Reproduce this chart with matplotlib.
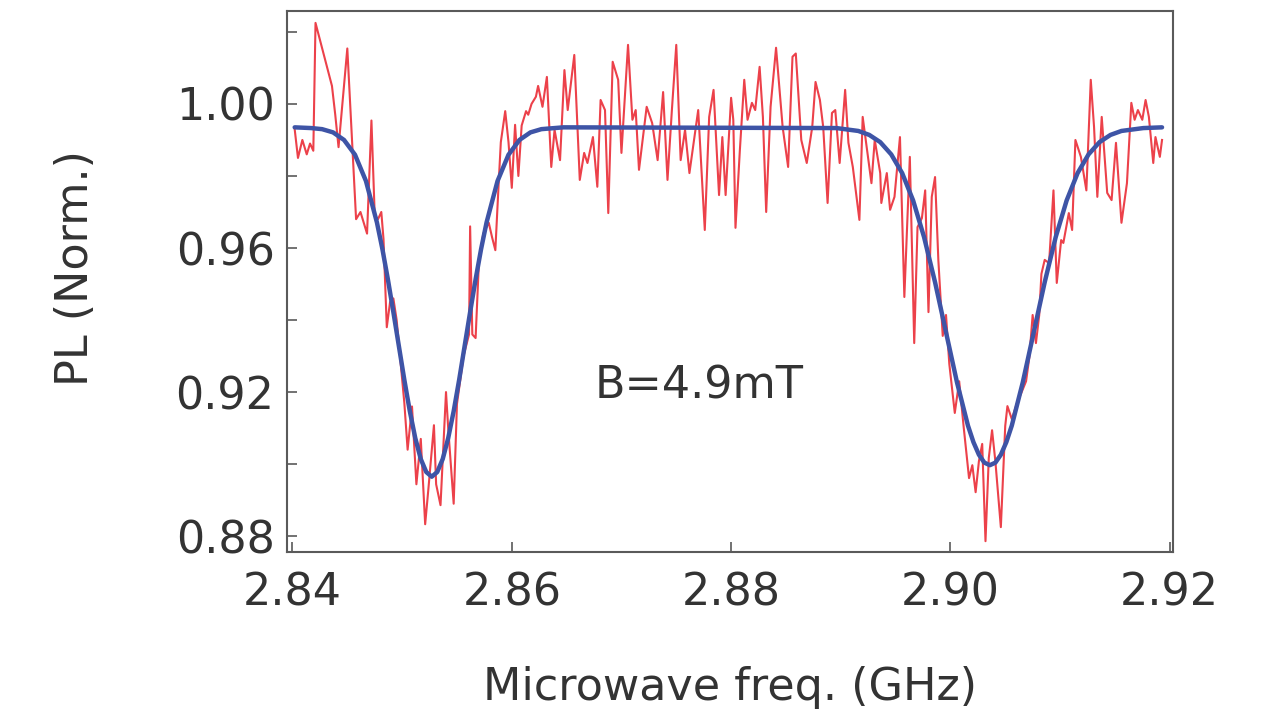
import numpy as np
import matplotlib
matplotlib.use('Agg')
import matplotlib.pyplot as plt
from matplotlib.ticker import MultipleLocator

# ODMR spectrum, measured PL and two-dip fit
freq = [2.8402, 2.8405, 2.8409, 2.8413, 2.8416, 2.8419, 2.8421, 2.8436, 2.8439, 2.8442,
        2.8450, 2.8458, 2.8462, 2.8465, 2.8468, 2.8472, 2.8475, 2.8478, 2.8481, 2.8483,
        2.8486, 2.8489, 2.8492, 2.8495, 2.8502, 2.8505, 2.8509, 2.8513, 2.8517, 2.8521,
        2.8524, 2.8529, 2.8531, 2.8535, 2.8540, 2.8542, 2.8547, 2.8550, 2.8556, 2.8561,
        2.8562, 2.8564, 2.8567, 2.8570, 2.8574, 2.8579, 2.8582, 2.8585, 2.8588, 2.8590,
        2.8594, 2.8597, 2.8600, 2.8603, 2.8606, 2.8609, 2.8613, 2.8615, 2.8618, 2.8622,
        2.8624, 2.8628, 2.8632, 2.8636, 2.8639, 2.8644, 2.8648, 2.8651, 2.8657, 2.8662,
        2.8666, 2.8669, 2.8674, 2.8678, 2.8681, 2.8685, 2.8688, 2.8692, 2.8697, 2.8700,
        2.8706, 2.8710, 2.8713, 2.8716, 2.8723, 2.8728, 2.8733, 2.8738, 2.8742, 2.8746,
        2.8750, 2.8754, 2.8758, 2.8762, 2.8770, 2.8776, 2.8780, 2.8784, 2.8789, 2.8792,
        2.8795, 2.8800, 2.8802, 2.8804, 2.8808, 2.8812, 2.8815, 2.8819, 2.8822, 2.8826,
        2.8829, 2.8832, 2.8836, 2.8841, 2.8847, 2.8852, 2.8856, 2.8859, 2.8864, 2.8869,
        2.8874, 2.8877, 2.8881, 2.8884, 2.8888, 2.8892, 2.8895, 2.8899, 2.8904, 2.8907,
        2.8911, 2.8917, 2.8920, 2.8924, 2.8928, 2.8931, 2.8936, 2.8937, 2.8942, 2.8945,
        2.8949, 2.8954, 2.8958, 2.8963, 2.8967, 2.8970, 2.8974, 2.8977, 2.8980, 2.8983,
        2.8986, 2.8989, 2.8993, 2.8996, 2.8999, 2.9004, 2.9008, 2.9012, 2.9017, 2.9020,
        2.9023, 2.9026, 2.9029, 2.9032, 2.9035, 2.9038, 2.9041, 2.9046, 2.9050, 2.9052,
        2.9056, 2.9061, 2.9065, 2.9069, 2.9072, 2.9075, 2.9078, 2.9081, 2.9083, 2.9086,
        2.9090, 2.9094, 2.9097, 2.9101, 2.9103, 2.9108, 2.9111, 2.9114, 2.9119, 2.9124,
        2.9128, 2.9131, 2.9134, 2.9138, 2.9143, 2.9147, 2.9151, 2.9156, 2.9161, 2.9165,
        2.9168, 2.9171, 2.9175, 2.9178, 2.9181, 2.9185, 2.9187, 2.9191, 2.9193]

pl = [0.9930, 0.9850, 0.9900, 0.9860, 0.9890, 0.9870, 1.0225, 1.0050, 0.9970, 0.9880,
      1.0154, 0.9680, 0.9700, 0.9670, 0.9640, 0.9954, 0.9690, 0.9680, 0.9700, 0.9625,
      0.9380, 0.9450, 0.9460, 0.9400, 0.9170, 0.9040, 0.9160, 0.8944, 0.9070, 0.8833,
      0.8933, 0.9108, 0.8944, 0.8886, 0.9200, 0.9100, 0.8890, 0.9167, 0.9300, 0.9360,
      0.9660, 0.9360, 0.9350, 0.9560, 0.9640, 0.9670, 0.9630, 0.9594, 0.9778, 0.9894,
      0.9980, 0.9894, 0.9767, 0.9942, 0.9800, 0.9940, 0.9980, 0.9970, 1.0000, 1.0020,
      1.0050, 0.9992, 1.0075, 0.9825, 0.9928, 0.9844, 1.0094, 0.9983, 1.0136, 0.9789,
      0.9864, 0.9836, 0.9908, 0.9770, 1.0011, 0.9983, 0.9697, 1.0117, 1.0067, 0.9864,
      1.0164, 0.9956, 0.9983, 0.9817, 0.9992, 0.9947, 0.9844, 1.0033, 0.9789, 0.9983,
      1.0164, 0.9844, 0.9928, 0.9808, 0.9983, 0.9650, 0.9964, 1.0039, 0.9747, 0.9908,
      0.9747, 1.0017, 0.9956, 0.9656, 0.9872, 1.0067, 0.9956, 1.0003, 0.9983, 1.0103,
      0.9964, 0.9700, 0.9992, 1.0156, 0.9936, 0.9825, 1.0131, 1.0140, 0.9900, 0.9836,
      0.9936, 1.0061, 1.0011, 0.9936, 0.9725, 0.9975, 0.9983, 0.9836, 1.0039, 0.9892,
      0.9825, 0.9678, 0.9964, 0.9872, 0.9780, 0.9900, 0.9808, 0.9725, 0.9808, 0.9706,
      0.9742, 0.9908, 0.9464, 0.9853, 0.9336, 0.9658, 0.9683, 0.9760, 0.9422, 0.9742,
      0.9797, 0.9567, 0.9356, 0.9414, 0.9278, 0.9142, 0.9230, 0.9106, 0.8961, 0.8997,
      0.8922, 0.9008, 0.9056, 0.8786, 0.9017, 0.9094, 0.9008, 0.8825, 0.9106, 0.9161,
      0.9125, 0.9172, 0.9200, 0.9230, 0.9297, 0.9414, 0.9336, 0.9414, 0.9528, 0.9567,
      0.9558, 0.9760, 0.9503, 0.9622, 0.9614, 0.9697, 0.9650, 0.9900, 0.9853, 0.9760,
      1.0067, 0.9936, 0.9742, 0.9964, 0.9753, 0.9733, 0.9892, 0.9670, 0.9780, 1.0003,
      0.9956, 0.9983, 0.9956, 1.0011, 0.9964, 0.9836, 0.9908, 0.9853, 0.9900]

fit_freq = [2.8402, 2.8417, 2.8427, 2.8437, 2.8447, 2.8457, 2.8467, 2.8477, 2.8482, 2.8487,
            2.8492, 2.8497, 2.8502, 2.8507, 2.8512, 2.8517, 2.8522, 2.8527, 2.8532, 2.8537,
            2.8542, 2.8547, 2.8552, 2.8557, 2.8562, 2.8567, 2.8572, 2.8577, 2.8587, 2.8597,
            2.8607, 2.8617, 2.8627, 2.8647, 2.8896, 2.8916, 2.8926, 2.8936, 2.8946, 2.8956,
            2.8966, 2.8976, 2.8986, 2.8996, 2.9006, 2.9016, 2.9021, 2.9026, 2.9031, 2.9036,
            2.9041, 2.9046, 2.9051, 2.9056, 2.9066, 2.9076, 2.9086, 2.9096, 2.9106, 2.9116,
            2.9126, 2.9136, 2.9146, 2.9156, 2.9176, 2.9193]

fit_pl = [0.9935, 0.9933, 0.9930, 0.9921, 0.9900, 0.9859, 0.9786, 0.9671, 0.9597, 0.9513,
          0.9422, 0.9328, 0.9234, 0.9147, 0.9072, 0.9014, 0.8978, 0.8965, 0.8978, 0.9014,
          0.9072, 0.9147, 0.9234, 0.9328, 0.9422, 0.9513, 0.9597, 0.9671, 0.9786, 0.9859,
          0.9900, 0.9921, 0.9930, 0.9935, 0.9933, 0.9925, 0.9914, 0.9894, 0.9860, 0.9808,
          0.9732, 0.9630, 0.9505, 0.9366, 0.9227, 0.9107, 0.9061, 0.9026, 0.9004, 0.8997,
          0.9004, 0.9026, 0.9061, 0.9107, 0.9227, 0.9366, 0.9505, 0.9630, 0.9732, 0.9808,
          0.9860, 0.9894, 0.9914, 0.9925, 0.9933, 0.9935]

field_label = 'B=4.9mT'

plt.rcParams['font.family'] = 'DejaVu Sans'
text_col = '#333333'
frame_col = '#5a5a5a'

fig = plt.figure(figsize=(12.75, 7.15), dpi=100)
ax = fig.add_axes([0.2251, 0.228, 0.6949, 0.7566])

ax.plot(freq, pl, color='#ea2c36', lw=1.5, alpha=0.9)
ax.plot(fit_freq, fit_pl, color='#3e54a6', lw=3.2, solid_capstyle='round')

ax.set_xlim(2.8395, 2.9203)
ax.set_ylim(0.8756, 1.0258)

ax.yaxis.set_minor_locator(MultipleLocator(0.02))
ax.set_yticks([0.88, 0.92, 0.96, 1.00])
ax.set_xticks([2.84, 2.86, 2.88, 2.90, 2.92])
ax.set_xticklabels(['2.84', '2.86', '2.88', '2.90', '2.92'])
ax.set_yticklabels(['0.88', '0.92', '0.96', '1.00'])

ax.tick_params(axis='both', which='both', direction='in', length=7, width=1.2,
               color=frame_col, labelcolor=text_col, labelsize=32)
ax.tick_params(axis='x', pad=14)
ax.tick_params(axis='y', pad=9)

for s in ax.spines.values():
    s.set_color(frame_col)
    s.set_linewidth(1.5)

ax.set_xlabel('Microwave freq. (GHz)', fontsize=32, color=text_col)
ax.set_ylabel('PL (Norm.)', fontsize=32, color=text_col)
ax.xaxis.set_label_coords(0.5, -0.21)
ax.yaxis.set_label_coords(-0.214, 0.525)

ax.text(2.8771, 0.9217, field_label, fontsize=32, color=text_col,
        ha='center', va='center')

plt.savefig('out.png', dpi=100)
